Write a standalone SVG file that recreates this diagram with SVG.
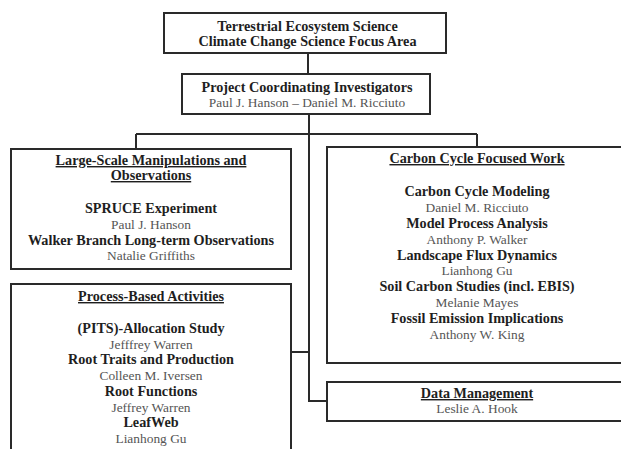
<svg xmlns="http://www.w3.org/2000/svg" width="621" height="449" viewBox="0 0 621 449">
<style>
.box{fill:#fff;stroke:#2a2a2a;stroke-width:2}
.con{fill:none;stroke:#2a2a2a;stroke-width:2}
text{font-family:"Liberation Serif","Times New Roman",serif;font-size:13.4px;text-anchor:middle}
.b{font-weight:bold;fill:#1e1e1e;font-size:14.2px}
.n{fill:#555}
.u{text-decoration:underline}
</style>
<rect width="621" height="449" fill="#fff"/>
<g id="connectors">
<path class="con" d="M308 53V74"/>
<path class="con" d="M309 114V401H327"/>
<path class="con" d="M136 134H477"/>
<path class="con" d="M136 134V149"/>
<path class="con" d="M477 134V147"/>
<path class="con" d="M291 352H309"/>
</g>
<g id="tes">
<rect class="box" x="164" y="13" width="282" height="40"/>
<text class="b" x="307.5" y="31">Terrestrial Ecosystem Science</text>
<text class="b" x="307.5" y="46">Climate Change Science Focus Area</text>
</g>
<g id="pci">
<rect class="box" x="182" y="74" width="248" height="40"/>
<text class="b" x="307" y="92">Project Coordinating Investigators</text>
<text class="n" x="307" y="107">Paul J. Hanson – Daniel M. Ricciuto</text>
</g>
<g id="large">
<rect class="box" x="11" y="149" width="280" height="120"/>
<text class="b u" x="151" y="165">Large-Scale Manipulations and</text>
<text class="b u" x="151" y="180">Observations</text>
<text class="b" x="151" y="213">SPRUCE Experiment</text>
<text class="n" x="151" y="229">Paul J. Hanson</text>
<text class="b" x="151" y="245">Walker Branch Long-term Observations</text>
<text class="n" x="151" y="260">Natalie Griffiths</text>
</g>
<g id="process">
<rect class="box" x="11" y="284" width="280" height="175"/>
<text class="b u" x="151" y="301">Process-Based Activities</text>
<text class="b" x="151" y="333">(PITS)-Allocation Study</text>
<text class="n" x="151" y="349">Jefffrey Warren</text>
<text class="b" x="151" y="364">Root Traits and Production</text>
<text class="n" x="151" y="380">Colleen M. Iversen</text>
<text class="b" x="151" y="396">Root Functions</text>
<text class="n" x="151" y="412">Jeffrey Warren</text>
<text class="b" x="151" y="427">LeafWeb</text>
<text class="n" x="151" y="443">Lianhong Gu</text>
</g>
<g id="carbon">
<rect class="box" x="327" y="147" width="300" height="216"/>
<text class="b u" x="477" y="163">Carbon Cycle Focused Work</text>
<text class="b" x="477" y="196">Carbon Cycle Modeling</text>
<text class="n" x="477" y="212">Daniel M. Ricciuto</text>
<text class="b" x="477" y="228">Model Process Analysis</text>
<text class="n" x="477" y="244">Anthony P. Walker</text>
<text class="b" x="477" y="260">Landscape Flux Dynamics</text>
<text class="n" x="477" y="275">Lianhong Gu</text>
<text class="b" x="477" y="291">Soil Carbon Studies (incl. EBIS)</text>
<text class="n" x="477" y="307">Melanie Mayes</text>
<text class="b" x="477" y="323">Fossil Emission Implications</text>
<text class="n" x="477" y="339">Anthony W. King</text>
</g>
<g id="data">
<rect class="box" x="327" y="382" width="300" height="39"/>
<text class="b u" x="477" y="398">Data Management</text>
<text class="n" x="477" y="413">Leslie A. Hook</text>
</g>
</svg>
